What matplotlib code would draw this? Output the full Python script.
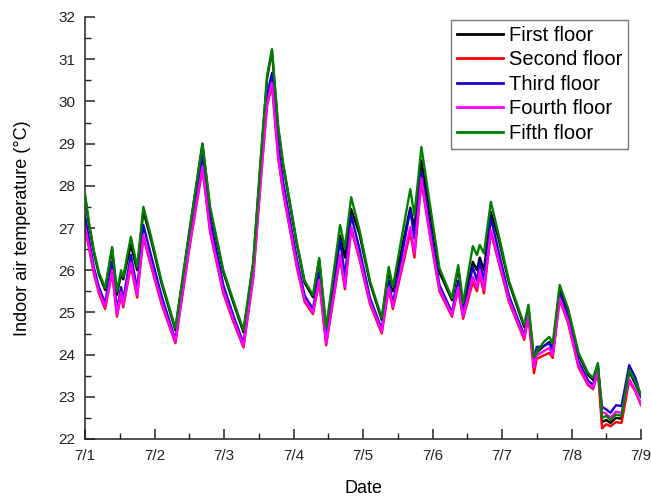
import matplotlib
matplotlib.use("Agg")
import matplotlib.pyplot as plt
from matplotlib.ticker import MultipleLocator

plt.rcParams['font.family'] = ['Liberation Sans', 'DejaVu Sans']

# time in days since 7/1 00:00
t = [0.00, 0.06, 0.13, 0.20, 0.29, 0.39, 0.46, 0.52, 0.55, 0.66, 0.75, 0.84,
     0.95, 1.10, 1.30, 1.50, 1.69, 1.80, 1.99, 2.13, 2.28, 2.42, 2.54, 2.62,
     2.69, 2.78, 2.85, 3.05, 3.16, 3.28, 3.37, 3.47, 3.67, 3.74, 3.83, 3.95,
     4.10, 4.27, 4.37, 4.43, 4.68, 4.74, 4.84, 4.95, 5.10, 5.28, 5.37, 5.44,
     5.58, 5.64, 5.68, 5.74, 5.84, 5.95, 6.10, 6.32, 6.38, 6.46, 6.50, 6.60,
     6.68, 6.73, 6.83, 6.95, 7.10, 7.24, 7.31, 7.38, 7.44, 7.50, 7.56, 7.64,
     7.72, 7.83, 7.92, 8.00]

fifth = [27.80, 27.10, 26.45, 25.95, 25.58, 26.55, 25.50, 26.00, 25.84, 26.79, 26.08, 27.50,
         26.80, 25.75, 24.63, 26.90, 28.99, 27.50, 26.00, 25.30, 24.58, 26.20, 28.90, 30.60,
         31.24, 29.40, 28.54, 26.64, 25.75, 25.41, 26.29, 24.63, 27.07, 26.53, 27.73, 26.95,
         25.75, 24.87, 26.08, 25.60, 27.92, 27.30, 28.92, 27.70, 26.05, 25.34, 26.12, 25.22,
         26.57, 26.36, 26.60, 26.40, 27.62, 26.85, 25.75, 24.70, 25.18, 23.94, 24.06, 24.30,
         24.42, 24.27, 25.65, 25.10, 24.05, 23.56, 23.45, 23.80, 22.50, 22.55, 22.45, 22.58,
         22.55, 23.64, 23.35, 23.04]

first = [27.75, 27.05, 26.40, 25.90, 25.53, 26.50, 25.42, 25.92, 25.78, 26.60, 26.00, 27.40,
         26.72, 25.70, 24.58, 26.88, 29.00, 27.45, 25.95, 25.25, 24.53, 26.15, 28.85, 30.55,
         31.20, 29.35, 28.50, 26.60, 25.70, 25.36, 26.25, 24.58, 26.82, 26.30, 27.45, 26.85,
         25.70, 24.82, 26.00, 25.50, 27.48, 27.00, 28.60, 27.50, 25.95, 25.29, 26.05, 25.15,
         26.20, 26.00, 26.30, 26.00, 27.38, 26.75, 25.70, 24.65, 25.12, 23.85, 24.05, 24.20,
         24.30, 24.15, 25.55, 25.05, 24.00, 23.52, 23.40, 23.75, 22.40, 22.45, 22.38, 22.50,
         22.48, 23.60, 23.30, 23.00]

third = [27.30, 26.70, 26.05, 25.60, 25.22, 26.20, 25.05, 25.60, 25.30, 26.36, 25.55, 27.07,
         26.35, 25.40, 24.35, 26.70, 28.73, 27.20, 25.65, 24.95, 24.27, 25.95, 28.55, 30.15,
         30.67, 28.95, 28.10, 26.25, 25.40, 25.08, 25.95, 24.35, 26.72, 25.85, 27.30, 26.50,
         25.35, 24.60, 25.75, 25.20, 27.43, 26.75, 28.33, 27.20, 25.65, 25.00, 25.75, 24.95,
         26.08, 25.75, 26.20, 25.75, 27.24, 26.45, 25.40, 24.45, 25.00, 23.85, 24.18, 24.20,
         24.27, 24.10, 25.46, 24.90, 23.85, 23.38, 23.28, 23.70, 22.76, 22.70, 22.62, 22.80,
         22.78, 23.75, 23.45, 23.00]

fourth = [27.05, 26.55, 25.95, 25.50, 25.13, 26.00, 24.94, 25.48, 25.17, 26.17, 25.41, 26.83,
          26.15, 25.25, 24.30, 26.55, 28.45, 26.95, 25.50, 24.85, 24.20, 25.85, 28.40, 29.95,
          30.43, 28.70, 27.90, 26.10, 25.30, 25.00, 25.77, 24.27, 26.36, 25.60, 27.02, 26.30,
          25.25, 24.54, 25.60, 25.13, 27.02, 26.40, 28.18, 27.00, 25.55, 24.94, 25.60, 24.90,
          25.84, 25.58, 26.00, 25.53, 26.95, 26.25, 25.30, 24.39, 24.94, 23.70, 23.98, 24.08,
          24.16, 23.98, 25.34, 24.80, 23.75, 23.30, 23.21, 23.64, 22.64, 22.60, 22.50, 22.65,
          22.62, 23.42, 23.15, 22.82]

second = [27.00, 26.50, 25.90, 25.45, 25.08, 25.95, 24.90, 25.42, 25.12, 26.10, 25.35, 26.78,
          26.10, 25.20, 24.27, 26.50, 28.40, 26.90, 25.45, 24.80, 24.17, 25.80, 28.35, 29.90,
          30.38, 28.65, 27.85, 26.05, 25.25, 24.96, 25.72, 24.22, 26.30, 25.55, 26.98, 26.25,
          25.20, 24.50, 25.55, 25.08, 26.90, 26.30, 28.10, 26.95, 25.50, 24.90, 25.55, 24.85,
          25.72, 25.50, 25.90, 25.45, 26.90, 26.20, 25.25, 24.35, 24.90, 23.56, 23.90, 23.98,
          24.04, 23.92, 25.30, 24.75, 23.70, 23.27, 23.18, 23.60, 22.25, 22.35, 22.30, 22.40,
          22.38, 23.38, 23.12, 22.80]

series = [
    ("First floor", first, "#000000"),
    ("Second floor", second, "#ff0000"),
    ("Third floor", third, "#1a00d0"),
    ("Fourth floor", fourth, "#ff00ff"),
    ("Fifth floor", fifth, "#008000"),
]

day_labels = ["7/1", "7/2", "7/3", "7/4", "7/5", "7/6", "7/7", "7/8", "7/9"]

fig = plt.figure(figsize=(6.51, 5.0), dpi=100)
ax = fig.add_axes([85 / 651, 1 - 439 / 500, 556 / 651, 422 / 500])

# fifth floor drawn on top of the others
for name, vals, col in series:
    ax.plot(t, vals, color=col, lw=1.7, label=name,
            zorder=3 if name == "Fifth floor" else 2)

ax.set_xlim(0, 8)
ax.set_ylim(22, 32)
ax.set_xticks(range(len(day_labels)))
ax.set_xticklabels(day_labels)
ax.xaxis.set_minor_locator(MultipleLocator(0.5))
ax.yaxis.set_major_locator(MultipleLocator(1))
ax.yaxis.set_minor_locator(MultipleLocator(0.5))

ax.spines['top'].set_visible(False)
ax.spines['right'].set_visible(False)
for s in ('left', 'bottom'):
    ax.spines[s].set_linewidth(1.1)
    ax.spines[s].set_color('#222222')

ax.tick_params(which='major', direction='in', length=7, width=1.1,
               labelsize=11, pad=7, colors='#222222')
ax.tick_params(which='minor', direction='in', length=4, width=1.0,
               colors='#222222')

ax.set_xlabel("Date", fontsize=13)
ax.set_ylabel("Indoor air temperature (°C)", fontsize=13)
ax.xaxis.set_label_coords(0.5, -0.098)
ax.yaxis.set_label_coords(-0.098, 0.5)

leg = ax.legend(loc='upper right', bbox_to_anchor=(1 - 13 / 556, 1 - 3 / 422),
                fontsize=14.5, frameon=True, fancybox=False, handlelength=2.25,
                handletextpad=0.3, borderpad=0.3, labelspacing=0.27,
                borderaxespad=0)
leg.get_frame().set_edgecolor('#555555')
leg.get_frame().set_linewidth(1.0)
for line in leg.get_lines():
    line.set_linewidth(2.0)

fig.savefig("out.png", dpi=100)
